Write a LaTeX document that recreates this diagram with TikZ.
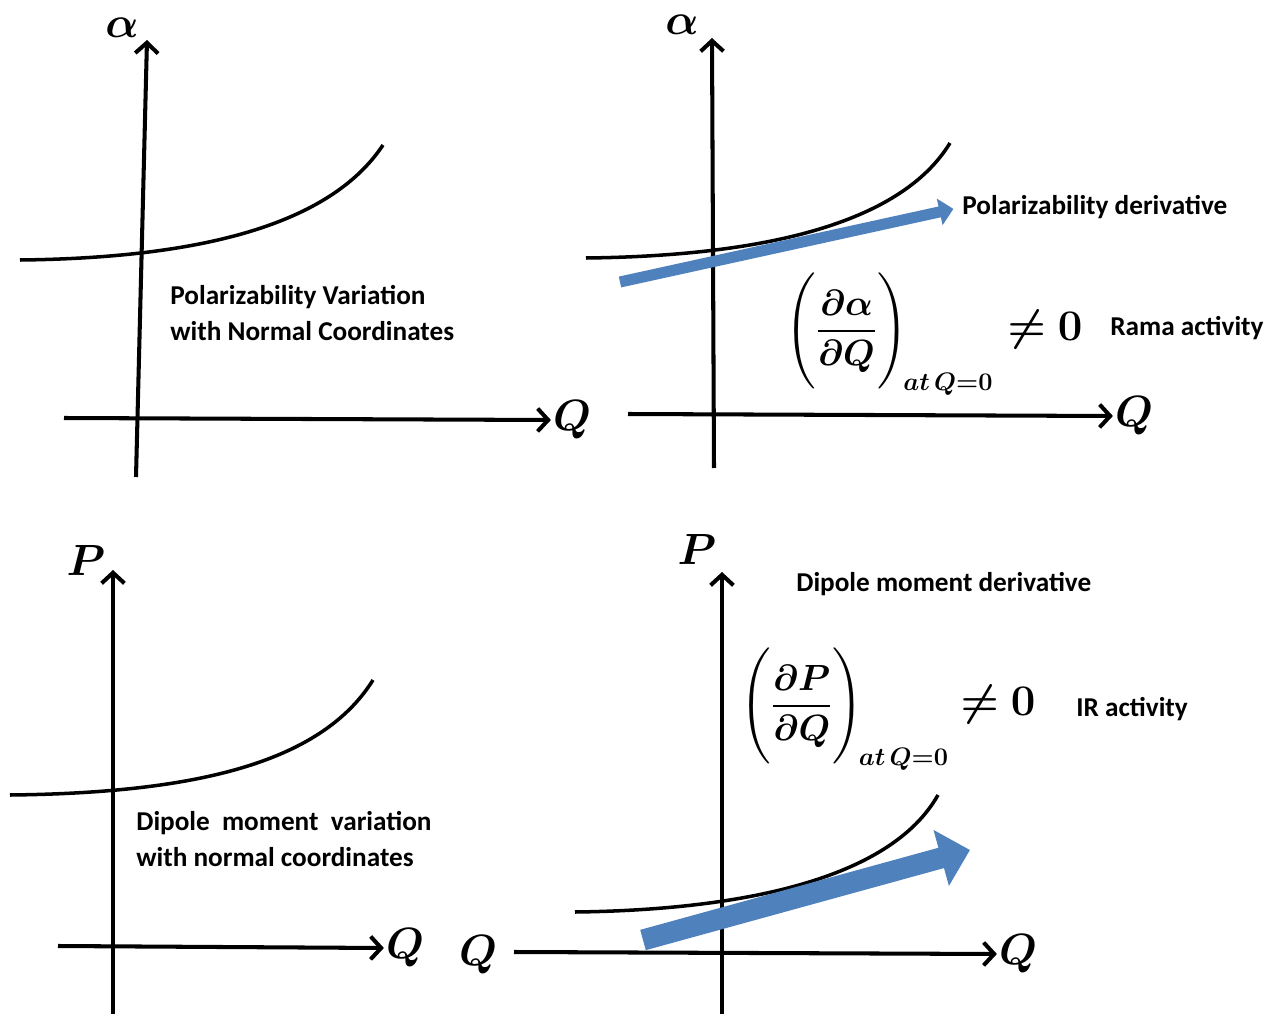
\documentclass[tikz,border=0pt]{standalone}
\usepackage{amsmath,amssymb,bm}
\usepackage{fontspec}
\setsansfont{Carlito}
\usetikzlibrary{positioning,arrows.meta,calc}
\definecolor{ink}{HTML}{000000}
\definecolor{tanblue}{HTML}{4F81BD}
\newcommand{\nt}{\fontsize{15.5pt}{20.5pt}\selectfont}
\newcommand{\dalpha}{$\displaystyle\Biggl(\frac{\bm{\partial\alpha}}{\bm{\partial Q}}\Biggr)_{\!\bm{at\,Q=0}}$}
\newcommand{\dpol}{$\displaystyle\Biggl(\frac{\bm{\partial P}}{\bm{\partial Q}}\Biggr)_{\!\bm{at\,Q=0}}$}
\newcommand{\nz}{$\bm{\neq 0}$}
\tikzset{
  axis/.style={draw=ink, line width=2.3pt, -{Straight Barb[length=6pt,width=13pt]}},
  curve/.style={draw=ink, line width=2pt},
  tang/.style={draw=tanblue, line width=6.3pt, -{Triangle[length=8pt,width=15pt]}},
  tangbig/.style={draw=tanblue, line width=12pt, -{Triangle[length=17pt,width=32pt]}},
  axlab/.style={inner sep=1pt, font=\fontsize{24pt}{28pt}\selectfont},
  note/.style={inner sep=0pt, font=\sffamily\bfseries\nt, text=ink, align=left},
  formula/.style={inner sep=0pt, font=\fontsize{22pt}{26pt}\selectfont},
  neq/.style={inner sep=0pt, font=\fontsize{26pt}{30pt}\selectfont},
}

\begin{document}
\begin{tikzpicture}[x=0.02cm, y=-0.02cm]
  \useasboundingbox (0,0) rectangle (1269,1014);
  % polarizability, left
  \coordinate (a1b) at (136,477);
  \coordinate (a1t) at (147,40);
  \coordinate (q1l) at (64,418);
  \node[axlab] (al1) at (122,28) {$\bm{\alpha}$};
  \node[axlab] (q1) at (572,420) {$\bm{Q}$};
  \draw[axis] (a1b) -- (a1t);
  \draw[axis] (q1l) -- (q1.west);
  \draw[curve] (20,260) .. controls (200,258) and (330,225) .. (383,145);
  \node[note, anchor=west] (t1) at (170,313) {Polarizability Variation\\with Normal Coordinates};

  % polarizability, right
  \coordinate (a2b) at (714,468);
  \coordinate (a2t) at (712,38);
  \coordinate (q2l) at (628,414);
  \coordinate (pt2) at (620,282);
  \node[axlab] (al2) at (682,25) {$\bm{\alpha}$};
  \node[axlab] (q2) at (1134,416) {$\bm{Q}$};
  \draw[axis] (a2b) -- (a2t);
  \draw[axis] (q2l) -- (q2.west);
  \draw[curve] (586,258) .. controls (760,256) and (900,225) .. (950,143);
  \node[note, anchor=west] (pd) at (962,207) {Polarizability derivative};
  \draw[tang, shorten >=5pt] (pt2) -- (pd.west);
  \node[formula, anchor=west] (fa) at (785,334) {\dalpha};
  \node[neq] (ne1) at (1045,330) {\nz};
  \node[note, anchor=west] (ra) at (1110,328) {Rama activity};

  % dipole, left
  \coordinate (a3b) at (113,1014);
  \coordinate (a3t) at (113,570);
  \coordinate (q3l) at (58,946);
  \node[axlab] (p3) at (86,560) {$\bm{P}$};
  \node[axlab] (q3) at (405,948) {$\bm{Q}$};
  \draw[axis] (a3b) -- (a3t);
  \draw[axis] (q3l) -- (q3.west);
  \draw[curve] (10,795) .. controls (190,793) and (320,765) .. (373,680);
  \node[note, anchor=west] (t3) at (136,839) {Dipole\hspace{0.45em}moment\hspace{0.45em}variation\\with normal coordinates};

  % dipole, right
  \coordinate (a4b) at (722,1014);
  \coordinate (a4t) at (722,572);
  \coordinate (q4l) at (514,952);
  \coordinate (pt4) at (643,940);
  \coordinate (ph4) at (970,850);
  \node[axlab] (p4) at (697,550) {$\bm{P}$};
  \node[axlab] (q4a) at (478,955) {$\bm{Q}$};
  \node[axlab] (q4) at (1018,954) {$\bm{Q}$};
  \draw[axis] (a4b) -- (a4t);
  \draw[axis] (q4l) -- (q4.west);
  \draw[curve] (575,912) .. controls (740,910) and (890,880) .. (938,795);
  \draw[tangbig] (pt4) -- (ph4);
  \node[note, anchor=west] (dd) at (796,584) {Dipole moment derivative};
  \node[formula, anchor=west] (fp) at (740,709) {\dpol};
  \node[neq] (ne2) at (998,705) {\nz};
  \node[note, anchor=west] (ir) at (1076,709) {IR activity};
\end{tikzpicture}
\end{document}
